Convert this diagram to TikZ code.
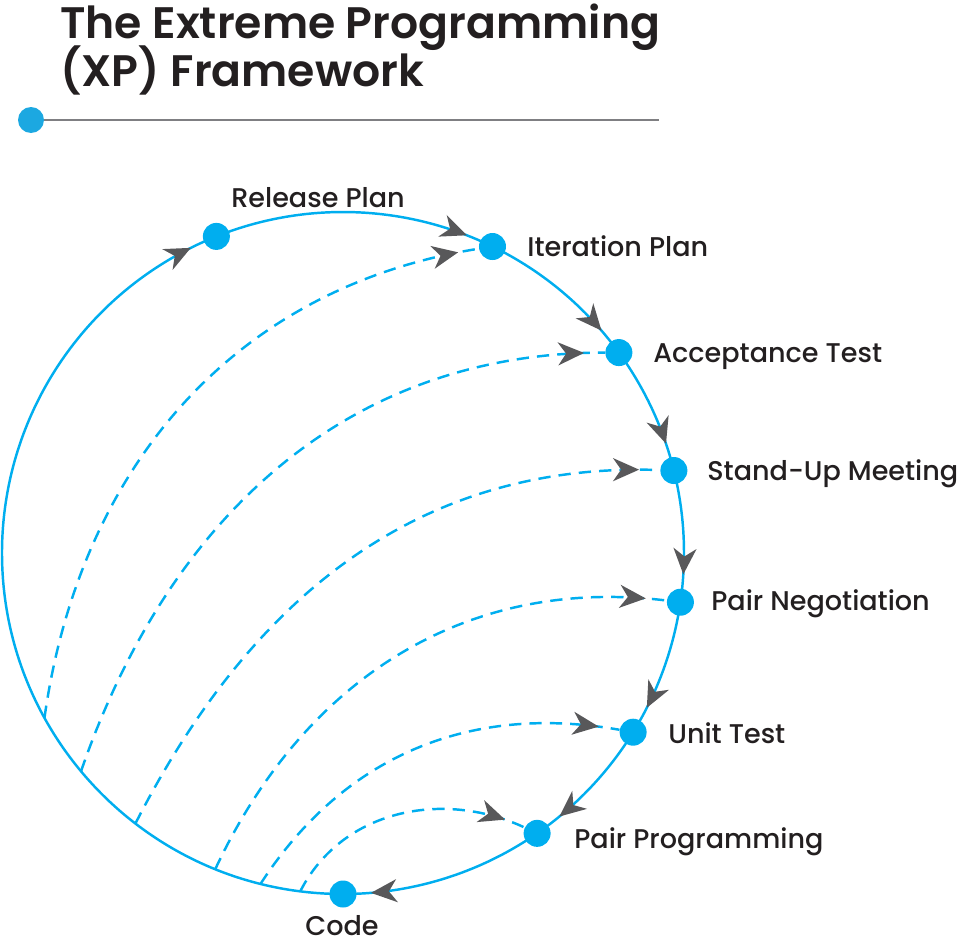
\documentclass[tikz,border=0pt]{standalone}
\usepackage{fontspec}
\setmainfont{Poppins}
\newfontfamily\stagefont{Poppins Medium}
\newfontfamily\headfont{Poppins SemiBold}
\usepackage{tikz}
\usetikzlibrary{arrows.meta, decorations.markings, backgrounds}
\definecolor{xpblue}{HTML}{00AEEF}
\definecolor{dotblue}{HTML}{1CA8E1}
\definecolor{tipgray}{HTML}{58585A}
\definecolor{inkblack}{HTML}{231F20}
\definecolor{rulegray}{HTML}{7F7F82}
\tikzset{
arrowMe/.style={postaction=decorate,
    decoration={markings, mark=at position #1 with {\arrow[solid]{Stealth[length=5.2mm,width=4.6mm,inset=1.6mm,color=tipgray]}}
    } }}

\begin{document}
\begin{tikzpicture}[x=0.02cm,y=0.02cm]
		\tikzset{vertex/.style = {shape=circle, fill=xpblue, inner sep=0pt, minimum size=0.54cm}}
		\tikzset{ring/.style = {draw=xpblue, line width=1.4pt, arrowMe=-0.56cm}}
		\tikzset{loopback/.style = {draw=xpblue, line width=1.4pt, dash pattern=on 7pt off 4.6pt, arrowMe=-0.42cm}}
		\tikzset{stagename/.style = {font=\stagefont\fontsize{15.4}{18}\selectfont, text=inkblack, anchor=base west, inner sep=0pt}}
		\tikzset{headline/.style = {font=\headfont\fontsize{25.1}{30}\selectfont, text=inkblack, anchor=base west, inner sep=0pt}}
		\useasboundingbox (0,0) rectangle (962,-943);

		% title
		\node[headline] (title1) at (60,-38) {The Extreme Programming};
		\node[headline] (title2) at (60,-86) {(XP) Framework};
		\coordinate (ruleend) at (659,-120);
		\node[circle, fill=dotblue, inner sep=0pt, minimum size=0.52cm] (tdot) at (31,-120) {};
		\begin{scope}[on background layer]
			\draw[rulegray, line width=0.8pt] (tdot) -- (ruleend);
		\end{scope}

		\begin{scope}[shift={(343,-553)}]
		\node[vertex] (RP) at (111.8:341) {};
		\node[vertex] (IP) at (64:341) {};
		\node[vertex] (AT) at (36:341) {};
		\node[vertex] (SU) at (14:341) {};
		\node[vertex] (PN) at (-8.3:341) {};
		\node[vertex] (UT) at (-31.7:341) {};
		\node[vertex] (PP) at (-55.3:341) {};
		\node[vertex] (CD) at (-90:341) {};

		\coordinate (s_1) at (208.9:341);
		\coordinate (s_2) at (219.8:341);
		\coordinate (s_3) at (232.5:341);
		\coordinate (s_4) at (248:341);
		\coordinate (s_5) at (256:341);
		\coordinate (s_6) at (262.8:341);

		\begin{scope}[on background layer]
		\draw[ring] (RP.center) arc[start angle=111.8, end angle=64, radius=341];
		\draw[ring] (IP.center) arc[start angle=64, end angle=36, radius=341];
		\draw[ring] (AT.center) arc[start angle=36, end angle=14, radius=341];
		\draw[ring] (SU.center) arc[start angle=14, end angle=-8.3, radius=341];
		\draw[ring] (PN.center) arc[start angle=-8.3, end angle=-31.7, radius=341];
		\draw[ring] (UT.center) arc[start angle=-31.7, end angle=-55.3, radius=341];
		\draw[ring] (PP.center) arc[start angle=-55.3, end angle=-90, radius=341];
		\draw[ring] (CD.center) arc[start angle=270, end angle=111.8, radius=341];

		\draw[loopback] (s_1) to[out=82, in=189] (IP);
		\draw[loopback] (s_2) to[out=71, in=180] (AT);
		\draw[loopback] (s_3) to[out=63, in=178] (SU);
		\draw[loopback] (s_4) to[out=65, in=173] (PN);
		\draw[loopback] (s_5) to[out=57, in=170] (UT);
		\draw[loopback] (s_6) to[out=63, in=155] (PP);
		\end{scope}
		\end{scope}

		\node[stagename] (tRP) at (231,-207) {Release Plan};
		\node[stagename] (tIP) at (527,-256) {Iteration Plan};
		\node[stagename] (tAT) at (653,-362) {Acceptance Test};
		\node[stagename] (tSU) at (707,-480) {Stand-Up Meeting};
		\node[stagename] (tPN) at (711,-610) {Pair Negotiation};
		\node[stagename] (tUT) at (668,-743) {Unit Test};
		\node[stagename] (tPP) at (574,-848) {Pair Programming};
		\node[stagename] (tCD) at (305,-935) {Code};
	\end{tikzpicture}
\end{document}
